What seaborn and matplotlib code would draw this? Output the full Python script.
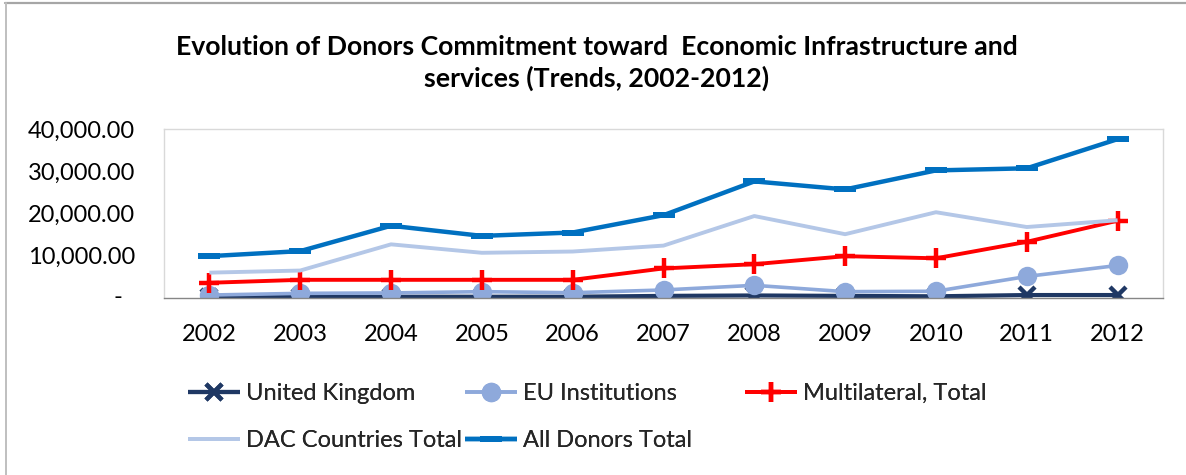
import matplotlib
matplotlib.use("Agg")
import matplotlib.pyplot as plt
from matplotlib.path import Path
from matplotlib.lines import Line2D
from matplotlib.ticker import FuncFormatter, MultipleLocator
import seaborn as sns
import pandas as pd

# Commitments toward economic infrastructure and services, 2002-2012
years = ["2002", "2003", "2004", "2005", "2006", "2007",
         "2008", "2009", "2010", "2011", "2012"]
united_kingdom = [200, 300, 300, 300, 300, 500, 600, 500, 400, 700, 700]
eu_institutions = [700, 1100, 1200, 1500, 1250, 1900, 3000, 1500, 1600, 5100, 7700]
multilateral_total = [3600, 4300, 4300, 4300, 4300, 7000, 8000, 9900, 9400, 13300, 18300]
dac_countries_total = [6000, 6500, 12700, 10700, 11000, 12400, 19400, 15100, 20300, 16800, 18400]
all_donors_total = [9900, 11100, 17100, 14700, 15500, 19600, 27600, 25700, 30200, 30700, 37600]

title = ("Evolution of Donors Commitment toward  Economic Infrastructure and\n"
         "services (Trends, 2002-2012)")

sns.set_theme(style="white")
plt.rcParams["font.family"] = ["Lato", "DejaVu Sans"]

W, H = 1186, 475
fig = plt.figure(figsize=(W / 100, H / 100), dpi=100)
ax = fig.add_axes([164 / W, 1 - 298 / H, (1163 - 164) / W, (298 - 129) / H])

# wide flat "dash" marker used for the totals line
dash = Path([(-1, -0.3), (1, -0.3), (1, 0.3), (-1, 0.3), (-1, -0.3)],
            [Path.MOVETO, Path.LINETO, Path.LINETO, Path.LINETO, Path.CLOSEPOLY])

series = [
    ("United Kingdom", united_kingdom,
     dict(color="#1F3864", lw=3.0, marker="x", ms=11, mew=3.2, mec="#1F3864")),
    ("EU Institutions", eu_institutions,
     dict(color="#8EA9DB", lw=2.6, marker="o", ms=14, mew=0, mec="#8EA9DB")),
    ("Multilateral, Total", multilateral_total,
     dict(color="#FF0000", lw=2.8, marker="+", ms=15, mew=3.2, mec="#FF0000")),
    ("DAC Countries Total", dac_countries_total,
     dict(color="#B4C7E7", lw=2.8, marker=None)),
    ("All Donors Total", all_donors_total,
     dict(color="#0070C0", lw=3.2, marker=dash, ms=16, mew=0, mec="#0070C0")),
]

for name, values, style in series:
    df = pd.DataFrame({"year": years, "value": values})
    sns.lineplot(data=df, x="year", y="value", ax=ax, label=name,
                 solid_capstyle="butt", **style)

ax.set_xlim(-0.5, len(years) - 0.5)
ax.set_ylim(0, 40000)
ax.yaxis.set_major_locator(MultipleLocator(10000))
# zero is shown accounting-style as a dash, set slightly left of the numbers
ax.yaxis.set_major_formatter(
    FuncFormatter(lambda v, _: "" if v == 0 else f"{v:,.2f}"))
ax.text(-42 / 999, 0, "-", transform=ax.get_yaxis_transform(),
        ha="right", va="center", fontsize=17, color="#000000")
ax.set_xlabel("")
ax.set_ylabel("")
ax.tick_params(axis="both", length=0, labelsize=17, colors="#000000")
ax.tick_params(axis="y", pad=21)
ax.tick_params(axis="x", pad=19)

for side in ("top", "right", "left"):
    ax.spines[side].set_color("#D9D9D9")
    ax.spines[side].set_linewidth(1.0)
ax.spines["bottom"].set_color("#868686")
ax.spines["bottom"].set_linewidth(1.0)

# legend laid out in fixed-width columns, two rows
handles, labels = ax.get_legend_handles_labels()
ax.get_legend().remove()
lookup = dict(zip(labels, handles))
columns = [
    (188, ["United Kingdom", "DAC Countries Total"]),
    (465, ["EU Institutions", "All Donors Total"]),
    (745, ["Multilateral, Total"]),
]
for x0, names in columns:
    leg = fig.legend([lookup[n] for n in names], names,
                     loc="upper left", bbox_to_anchor=(x0 / W, 1 - 383 / H),
                     frameon=False, fontsize=17, borderpad=0,
                     borderaxespad=0, handlelength=2.2, handletextpad=0.25,
                     labelspacing=1.1, numpoints=1)
    fig.add_artist(leg)

fig.text(597 / W, 1 - 63 / H, title, ha="center", va="center",
         fontsize=19.2, fontweight="bold", linespacing=1.32, color="#000000")

# outer frame lines along the top and left edges
fig.add_artist(Line2D([5 / W, 1], [1 - 2.5 / H, 1 - 2.5 / H],
                      transform=fig.transFigure, color="#A6A6A6", lw=1.6))
fig.add_artist(Line2D([5.5 / W, 5.5 / W], [0, 1 - 2.5 / H],
                      transform=fig.transFigure, color="#BFBFBF", lw=1.4))

fig.savefig("out.png", dpi=100)
